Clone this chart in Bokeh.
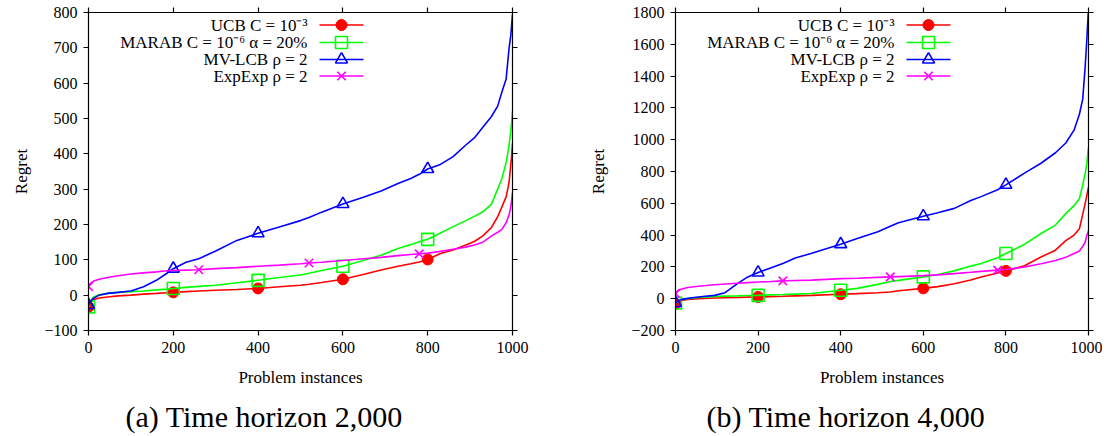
from bokeh.plotting import figure
from bokeh.layouts import row
from bokeh.models import (Range1d, LinearAxis, FixedTicker, Title,
                          CustomJSTickFormatter)
from bokeh.core.properties import value
from bokeh.embed import file_html
from bokeh.resources import INLINE

FONT = "Liberation Serif"

# ---------------- data: (a) time horizon 2,000 ----------------
X_A = [0, 4, 12, 25, 45, 70, 100, 130, 160, 185, 200, 230, 260, 300, 350,
       400, 450, 500, 520, 550, 600, 650, 690, 730, 760, 780, 800, 830, 860, 890,
       910, 930, 950, 965, 975, 985, 992, 996, 998, 1000]
UCB_A = [-33, -20, -13, -8, -5, -2, 0, 3, 5, 7, 8, 10, 12, 14, 16,
         19, 24, 28, 31, 36, 45, 59, 71, 82, 89, 94, 101, 118, 128, 142,
         152, 168, 191, 222, 250, 278, 320, 370, 395, 430]
MARAB_A = [-33, -18, -5, 1, 5, 8, 10, 12, 15, 17, 19, 22, 25, 28, 35,
           42, 50, 57, 62, 70, 82, 99, 113, 132, 143, 151, 158, 176, 194, 211,
           223, 236, 257, 300, 330, 375, 425, 465, 490, 520]
MVLCB_A = [-28, -18, -9, 0, 5, 8, 12, 24, 42, 62, 75, 93, 103, 125, 155,
           175, 193, 211, 220, 235, 258, 278, 295, 316, 330, 342, 357, 370, 392, 425,
           445, 475, 505, 535, 575, 612, 700, 735, 765, 795]
EXPEXP_A = [24, 33, 40, 45, 50, 55, 60, 63, 66, 69, 70, 71, 72, 75, 78,
            82, 85, 89, 91, 93, 98, 103, 107, 112, 115, 117, 119, 124, 130, 136,
            142, 150, 167, 178, 186, 205, 228, 250, 270, 290]

# ---------------- data: (b) time horizon 4,000 ----------------
X_B = [0, 5, 13, 30, 55, 95, 120, 150, 175, 200, 230, 260, 290, 330, 400,
       440, 490, 520, 540, 600, 635, 675, 715, 740, 780, 800, 845, 885, 920, 945,
       965, 978, 986, 992, 996, 999, 1000]
UCB_B = [-32, -20, -11, -4, 0, 4, 6, 8, 10, 11, 13, 15, 18, 21, 28,
         32, 37, 42, 50, 65, 76, 94, 118, 136, 162, 175, 207, 262, 305, 365,
         400, 440, 530, 600, 650, 690, 700]
MARAB_B = [-27, -15, -5, 0, 8, 14, 16, 18, 20, 21, 24, 26, 29, 33, 53,
           65, 90, 108, 115, 137, 152, 175, 205, 222, 258, 284, 342, 410, 463, 535,
           585, 630, 715, 790, 850, 930, 950]
MVLCB_B = [-27, -15, -6, 2, 11, 21, 38, 95, 137, 165, 193, 222, 256, 286, 343,
           379, 421, 455, 478, 518, 540, 568, 617, 642, 685, 716, 790, 852, 918, 979,
           1060, 1160, 1255, 1460, 1632, 1780, 1820]
EXPEXP_B = [32, 50, 60, 70, 78, 88, 92, 97, 101, 105, 108, 112, 114, 117, 126,
            129, 134, 137, 139, 145, 150, 158, 166, 172, 180, 184, 199, 220, 240, 260,
            284, 300, 330, 355, 400, 420, 430]

X_TICKS = [0, 200, 400, 600, 800, 1000]
MARK_X = [0, 200, 400, 600, 800]
MARK_X_EXP = [0, 260, 520, 780]

NAMES = ["UCB C = 10\u207b\u00b3", "MARAB C = 10\u207b\u2076 \u03b1 = 20%",
         "MV-LCB \u03c1 = 2", "ExpExp \u03c1 = 2"]
COLORS = ["#ff0000", "#00ff00", "#0000ff", "#ff00ff"]
MARKERS = ["circle", "square", "triangle", "x"]
CAPTIONS = ["(a) Time horizon 2,000", "(b) Time horizon 4,000"]

FRAME_H = 318


def style_axis(ax, labels=True):
    ax.major_tick_out = 5
    ax.major_tick_in = 0
    ax.minor_tick_out = 0
    ax.minor_tick_in = 0
    ax.axis_line_color = "black"
    ax.axis_line_width = 1.2
    ax.major_tick_line_color = "black"
    ax.major_tick_line_width = 1.2
    if labels:
        ax.major_label_text_font = FONT
        ax.major_label_text_font_size = "16px"
        ax.major_label_text_color = "black"
        ax.major_label_standoff = 6
        ax.axis_label_text_font = FONT
        ax.axis_label_text_font_size = "17px"
        ax.axis_label_text_font_style = "normal"
        ax.axis_label_text_color = "black"
    else:
        ax.formatter = CustomJSTickFormatter(code="return ''")
        ax.major_label_standoff = 0
        ax.axis_label = None


def panel(xs, series, y_lo, y_hi, y_step, caption, frame_w, bl, br, cap_off,
          ylab_standoff):
    p = figure(frame_width=frame_w, frame_height=FRAME_H,
               x_range=Range1d(0, 1000), y_range=Range1d(y_lo, y_hi),
               x_axis_type=None, y_axis_type=None,
               output_backend="svg", toolbar_location=None,
               min_border_left=bl, min_border_right=br,
               min_border_top=12, min_border_bottom=106)
    p.outline_line_color = None
    p.xgrid.visible = False
    p.ygrid.visible = False
    p.background_fill_color = "white"
    p.border_fill_color = "white"

    yt = list(range(y_lo, y_hi + 1, y_step))
    xb = LinearAxis(ticker=FixedTicker(ticks=X_TICKS), axis_label="Problem instances")
    style_axis(xb)
    xb.axis_label_standoff = 12
    yl = LinearAxis(ticker=FixedTicker(ticks=yt), axis_label="Regret")
    style_axis(yl)
    yl.axis_label_standoff = ylab_standoff
    xt = LinearAxis(ticker=FixedTicker(ticks=X_TICKS))
    style_axis(xt, labels=False)
    yr = LinearAxis(ticker=FixedTicker(ticks=yt))
    style_axis(yr, labels=False)
    p.add_layout(xb, "below")
    p.add_layout(yl, "left")
    p.add_layout(xt, "above")
    p.add_layout(yr, "right")

    # curves and markers
    for i, ys in enumerate(series):
        p.line(xs, ys, line_color=COLORS[i], line_width=1.6)
        marks = MARK_X_EXP if i == 3 else MARK_X
        mx = [x for x in xs if x in marks]
        my = [y for x, y in zip(xs, ys) if x in marks]
        if MARKERS[i] == "circle":
            p.scatter(mx, my, marker="circle", size=11, fill_color=COLORS[i],
                      line_color=COLORS[i])
        else:
            p.scatter(mx, my, marker=MARKERS[i], size=12, fill_color=None,
                      line_color=COLORS[i], line_width=1.6)

    # legend (positions in frame pixels converted to data units)
    def dx(px):
        return px / frame_w * 1000.0

    def dy(py):
        return y_hi - py / FRAME_H * (y_hi - y_lo)

    rows_px = [12.5, 30, 47, 63.5]
    ly = [dy(r) for r in rows_px]
    p.text(x=[dx(219)] * 4, y=ly, text=NAMES, text_align="right",
           text_baseline="middle", text_font=value(FONT), text_font_size="17px",
           text_color="black")
    for i in range(4):
        p.line([dx(231), dx(275)], [ly[i], ly[i]], line_color=COLORS[i], line_width=1.6)
        if MARKERS[i] == "circle":
            p.scatter([dx(253)], [ly[i]], marker="circle", size=11,
                      fill_color=COLORS[i], line_color=COLORS[i])
        else:
            p.scatter([dx(253)], [ly[i]], marker=MARKERS[i], size=12,
                      fill_color=None, line_color=COLORS[i], line_width=1.6)

    t = Title(text=caption, align="left", offset=cap_off, text_font=FONT,
              text_font_size="30px", text_font_style="normal", text_color="black",
              standoff=16)
    p.add_layout(t, "below")
    return p


p1 = panel(X_A, [UCB_A, MARAB_A, MVLCB_A, EXPEXP_A], -100, 800, 100,
           CAPTIONS[0], 424, 88, 21, 37, 10)
p2 = panel(X_B, [UCB_B, MARAB_B, MVLCB_B, EXPEXP_B], -200, 1800, 200,
           CAPTIONS[1], 413, 142, 14, 31, 20)

layout = row(p1, p2)
open("out.html", "w").write(file_html(layout, INLINE))
